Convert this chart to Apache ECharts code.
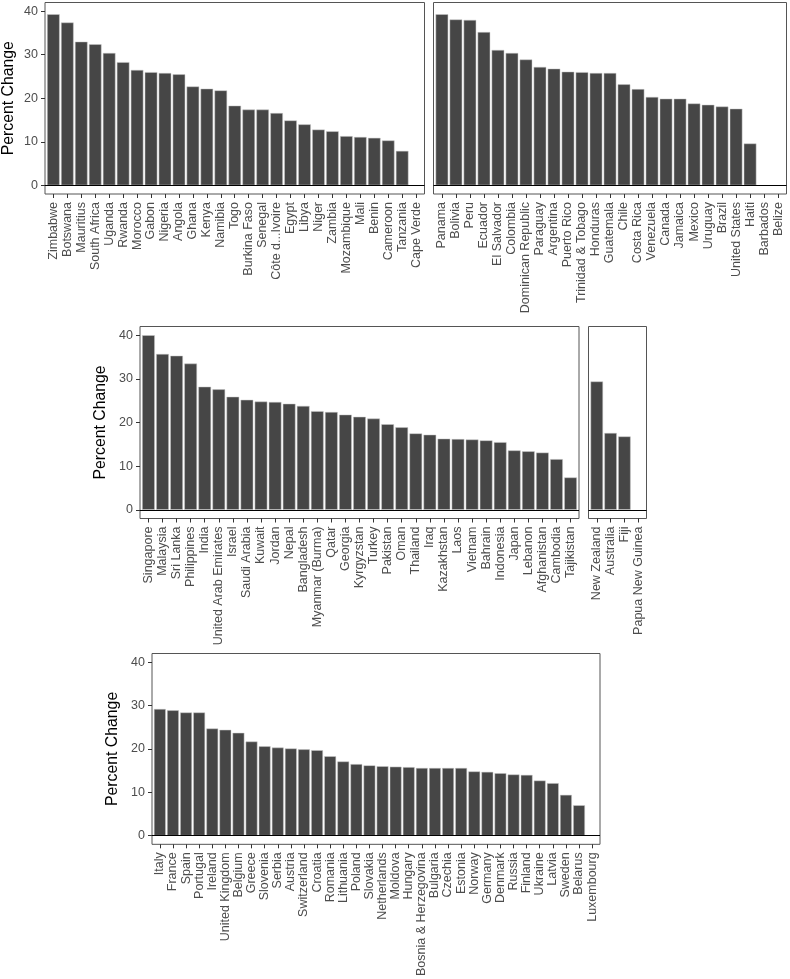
<!DOCTYPE html>
<html>
<head>
<meta charset="utf-8">
<script src="https://cdn.jsdelivr.net/npm/echarts@6/dist/echarts.min.js"></script>
<style>
html,body{margin:0;padding:0;background:#fff;}
#chart{width:790px;height:979px;}
</style>
</head>
<body>
<div id="chart"></div>
<script>
// ---- Data ----
const africaCats = ["Zimbabwe","Botswana","Mauritius","South Africa","Uganda","Rwanda","Morocco","Gabon","Nigeria","Angola","Ghana","Kenya","Namibia","Togo","Burkina Faso","Senegal","Côte d...Ivoire","Egypt","Libya","Niger","Zambia","Mozambique","Mali","Benin","Cameroon","Tanzania","Cape Verde"];
const africaVals = [39.3,37.4,33.0,32.4,30.4,28.3,26.5,26.0,25.8,25.5,22.7,22.2,21.8,18.3,17.4,17.4,16.6,14.9,14.0,12.8,12.4,11.3,11.1,10.9,10.3,7.9,null];

const americasCats = ["Panama","Bolivia","Peru","Ecuador","El Salvador","Colombia","Dominican Republic","Paraguay","Argentina","Puerto Rico","Trinidad & Tobago","Honduras","Guatemala","Chile","Costa Rica","Venezuela","Canada","Jamaica","Mexico","Uruguay","Brazil","United States","Haiti","Barbados","Belize"];
const americasVals = [39.3,38.1,38.0,35.2,31.1,30.4,28.9,27.2,26.8,26.1,26.0,25.8,25.8,23.2,22.1,20.3,19.9,19.9,18.8,18.5,18.1,17.6,9.6,null,null];

const asiaCats = ["Singapore","Malaysia","Sri Lanka","Philippines","India","United Arab Emirates","Israel","Saudi Arabia","Kuwait","Jordan","Nepal","Bangladesh","Myanmar (Burma)","Qatar","Georgia","Kyrgyzstan","Turkey","Pakistan","Oman","Thailand","Iraq","Kazakhstan","Laos","Vietnam","Bahrain","Indonesia","Japan","Lebanon","Afghanistan","Cambodia","Tajikistan"];
const asiaVals = [40.0,35.7,35.3,33.5,28.2,27.6,25.9,25.2,24.8,24.7,24.3,23.8,22.6,22.4,21.8,21.3,20.9,19.6,18.9,17.5,17.2,16.3,16.2,16.1,15.9,15.5,13.6,13.4,13.1,11.6,7.4];

const oceaniaCats = ["New Zealand","Australia","Fiji","Papua New Guinea"];
const oceaniaVals = [29.4,17.6,16.8,null];

const europeCats = ["Italy","France","Spain","Portugal","Ireland","United Kingdom","Belgium","Greece","Slovenia","Serbia","Austria","Switzerland","Croatia","Romania","Lithuania","Poland","Slovakia","Netherlands","Moldova","Hungary","Bosnia & Herzegovina","Bulgaria","Czechia","Estonia","Norway","Germany","Denmark","Russia","Finland","Ukraine","Latvia","Sweden","Belarus","Luxembourg"];
const europeVals = [29.2,28.9,28.4,28.4,24.7,24.4,23.7,21.7,20.6,20.3,20.1,19.9,19.7,18.3,17.1,16.5,16.2,16.0,15.9,15.8,15.6,15.6,15.6,15.6,14.8,14.7,14.4,14.1,14.0,12.7,12.1,9.4,7.0,null];

const yTicks = [0,10,20,30,40];
const yTitle = "Percent Change";

// ---- Build ----
const FONT = "'Liberation Sans', Arial, Helvetica, sans-serif";
const panels = [
  {cats: africaCats, vals: africaVals, rect: {left: 43, top: 2.5, width: 381.5, height: 191.5}, showY: true},
  {cats: americasCats, vals: americasVals, rect: {left: 433.5, top: 2.5, width: 353, height: 191.5}, showY: false},
  {cats: asiaCats, vals: asiaVals, rect: {left: 140, top: 326.5, width: 439, height: 192}, showY: true},
  {cats: oceaniaCats, vals: oceaniaVals, rect: {left: 588.5, top: 326.5, width: 58, height: 192}, showY: false},
  {cats: europeCats, vals: europeVals, rect: {left: 152, top: 653.5, width: 448, height: 191.5}, showY: true}
];

const grid = [], xAxis = [], yAxis = [], series = [];
panels.forEach((p, i) => {
  const pos = p.cats.map((c, k) => k + 1);
  grid.push(Object.assign({show: true, borderColor: '#555', borderWidth: 1, backgroundColor: 'transparent', containLabel: false}, p.rect));
  xAxis.push({
    gridIndex: i, type: 'value', min: 0.4, max: p.cats.length + 0.6,
    splitLine: {show: false},
    axisLine: {show: false, onZero: false},
    axisTick: {show: true, customValues: pos, length: 4, lineStyle: {color: '#333', width: 1}},
    axisLabel: {customValues: pos, formatter: v => p.cats[Math.round(v) - 1] || '', rotate: 90,
      fontSize: 12.5, color: '#4d4d4d', margin: 8, fontFamily: FONT}
  });
  yAxis.push({
    gridIndex: i, type: 'value', min: -2, max: 42,
    splitLine: {show: false},
    axisLine: {show: false, onZero: false},
    axisTick: {show: p.showY, customValues: yTicks, length: 4, lineStyle: {color: '#333', width: 1}},
    axisLabel: {show: p.showY, customValues: yTicks, fontSize: 12.5, color: '#4d4d4d', margin: 7, fontFamily: FONT},
    name: p.showY ? yTitle : '', nameLocation: 'middle', nameGap: 28,
    nameTextStyle: {fontSize: 15.8, color: '#000', fontFamily: FONT}
  });
  series.push({
    type: 'bar', xAxisIndex: i, yAxisIndex: i,
    data: p.vals.map((v, k) => [k + 1, v]),
    barWidth: '90%',
    itemStyle: {color: '#464646', borderColor: '#c8c8c8', borderWidth: 0.5},
    silent: true,
    markLine: {silent: true, symbol: 'none', label: {show: false},
      lineStyle: {color: '#000', width: 1.2, type: 'solid'},
      data: [{yAxis: 0}]}
  });
});

const chart = echarts.init(document.getElementById('chart'), null, {renderer: 'canvas'});
chart.setOption({animation: false, backgroundColor: '#fff', grid, xAxis, yAxis, series});
</script>
</body>
</html>
